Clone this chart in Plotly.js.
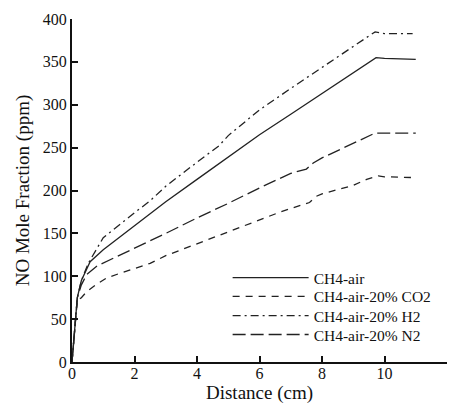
<!DOCTYPE html>
<html>
<head>
<meta charset="utf-8">
<script src="https://cdn.plot.ly/plotly-3.0.1.min.js"></script>
<style>html,body{margin:0;padding:0;background:#fff;}#chart{width:454px;height:404px;}</style>
</head>
<body>
<div id="chart"></div>
<script>
// Distance (cm) and NO mole fraction (ppm) for each mixture
var xAir = [0, 0.17, 0.3, 0.58, 1.0, 1.5, 2.0, 2.5, 3, 4, 5, 6, 7, 8, 9, 9.73, 10, 11];
var yAir = [0, 75, 95, 117, 131, 145, 160, 174, 187, 213, 239, 265, 289, 313, 337, 355, 354, 353];

var xCO2 = [0, 0.17, 0.3, 0.47, 0.8, 1.11, 1.5, 2, 2.5, 3, 4, 5, 6, 6.6, 7, 7.6, 7.8, 8, 9, 9.43, 9.8, 10, 11];
var yCO2 = [0, 72, 75, 82, 91, 98, 103, 109, 115, 124, 138, 152, 166, 174, 179, 186, 193, 196, 206, 213, 217, 216, 215];

var xH2 = [0, 0.17, 0.3, 0.52, 1.0, 1.5, 2, 2.5, 3, 4, 4.7, 5, 6, 7, 8, 9, 9.7, 10, 10.9];
var yH2 = [0, 75, 95, 115, 145, 160, 174, 188, 205, 233, 252, 264, 294, 319, 343, 368, 385, 383, 383];

var xN2 = [0, 0.17, 0.3, 0.47, 0.8, 1.32, 2, 2.5, 3, 4, 5, 6, 7, 7.5, 7.72, 8, 9, 9.7, 10, 11];
var yN2 = [0, 75, 90, 102, 112, 121, 133, 141, 150, 168, 185, 203, 220, 225, 232, 238, 255, 267, 267, 267];

var names = ["CH4-air", "CH4-air-20% CO2", "CH4-air-20% H2", "CH4-air-20% N2"];
var dashes = ["solid", "7px,6px", "8px,4px,2px,4px", "13px,5px"];
var legendIds = ["legend", "legend2", "legend3", "legend4"];
var legendY = [0.245, 0.19, 0.134, 0.079];

var xs = [xAir, xCO2, xH2, xN2];
var ys = [yAir, yCO2, yH2, yN2];

var traces = xs.map(function (x, i) {
  return {
    x: x, y: ys[i], name: names[i], type: "scatter", mode: "lines",
    legend: legendIds[i],
    line: {color: "#222", width: 1.3, dash: dashes[i], shape: "linear"}
  };
});

var font = "'Liberation Serif', 'Times New Roman', serif";
var layout = {
  width: 454, height: 404,
  margin: {l: 72, r: 7, t: 19, b: 42},
  paper_bgcolor: "#fff", plot_bgcolor: "#fff",
  font: {family: font, color: "#111", size: 16},
  showlegend: true,
  xaxis: {
    range: [0, 12], tickvals: [0, 2, 4, 6, 8, 10, 12],
    showgrid: false, zeroline: false,
    showline: true, linecolor: "#111", linewidth: 2,
    ticks: "inside", ticklen: 6, tickwidth: 2, tickcolor: "#111",
    tickfont: {family: font, size: 16, color: "#111"},
    ticklabelstandoff: -4,
    title: {text: "Distance (cm)", font: {family: font, size: 19, color: "#111"}, standoff: 4}
  },
  yaxis: {
    range: [0, 400], tickvals: [0, 50, 100, 150, 200, 250, 300, 350, 400],
    showgrid: false, zeroline: false,
    showline: true, linecolor: "#111", linewidth: 2,
    ticks: "inside", ticklen: 6, tickwidth: 2, tickcolor: "#111",
    tickfont: {family: font, size: 16, color: "#111"},
    title: {text: "NO Mole Fraction (ppm)", font: {family: font, size: 19, color: "#111"}, standoff: 8}
  }
};

legendIds.forEach(function (id, i) {
  layout[id] = {
    x: 0.415, y: legendY[i], xanchor: "left", yanchor: "middle",
    bgcolor: "rgba(0,0,0,0)", borderwidth: 0,
    font: {family: font, size: 15.5, color: "#111"},
    itemwidth: 76
  };
});

Plotly.newPlot("chart", traces, layout, {displayModeBar: false, staticPlot: true});
</script>
</body>
</html>
